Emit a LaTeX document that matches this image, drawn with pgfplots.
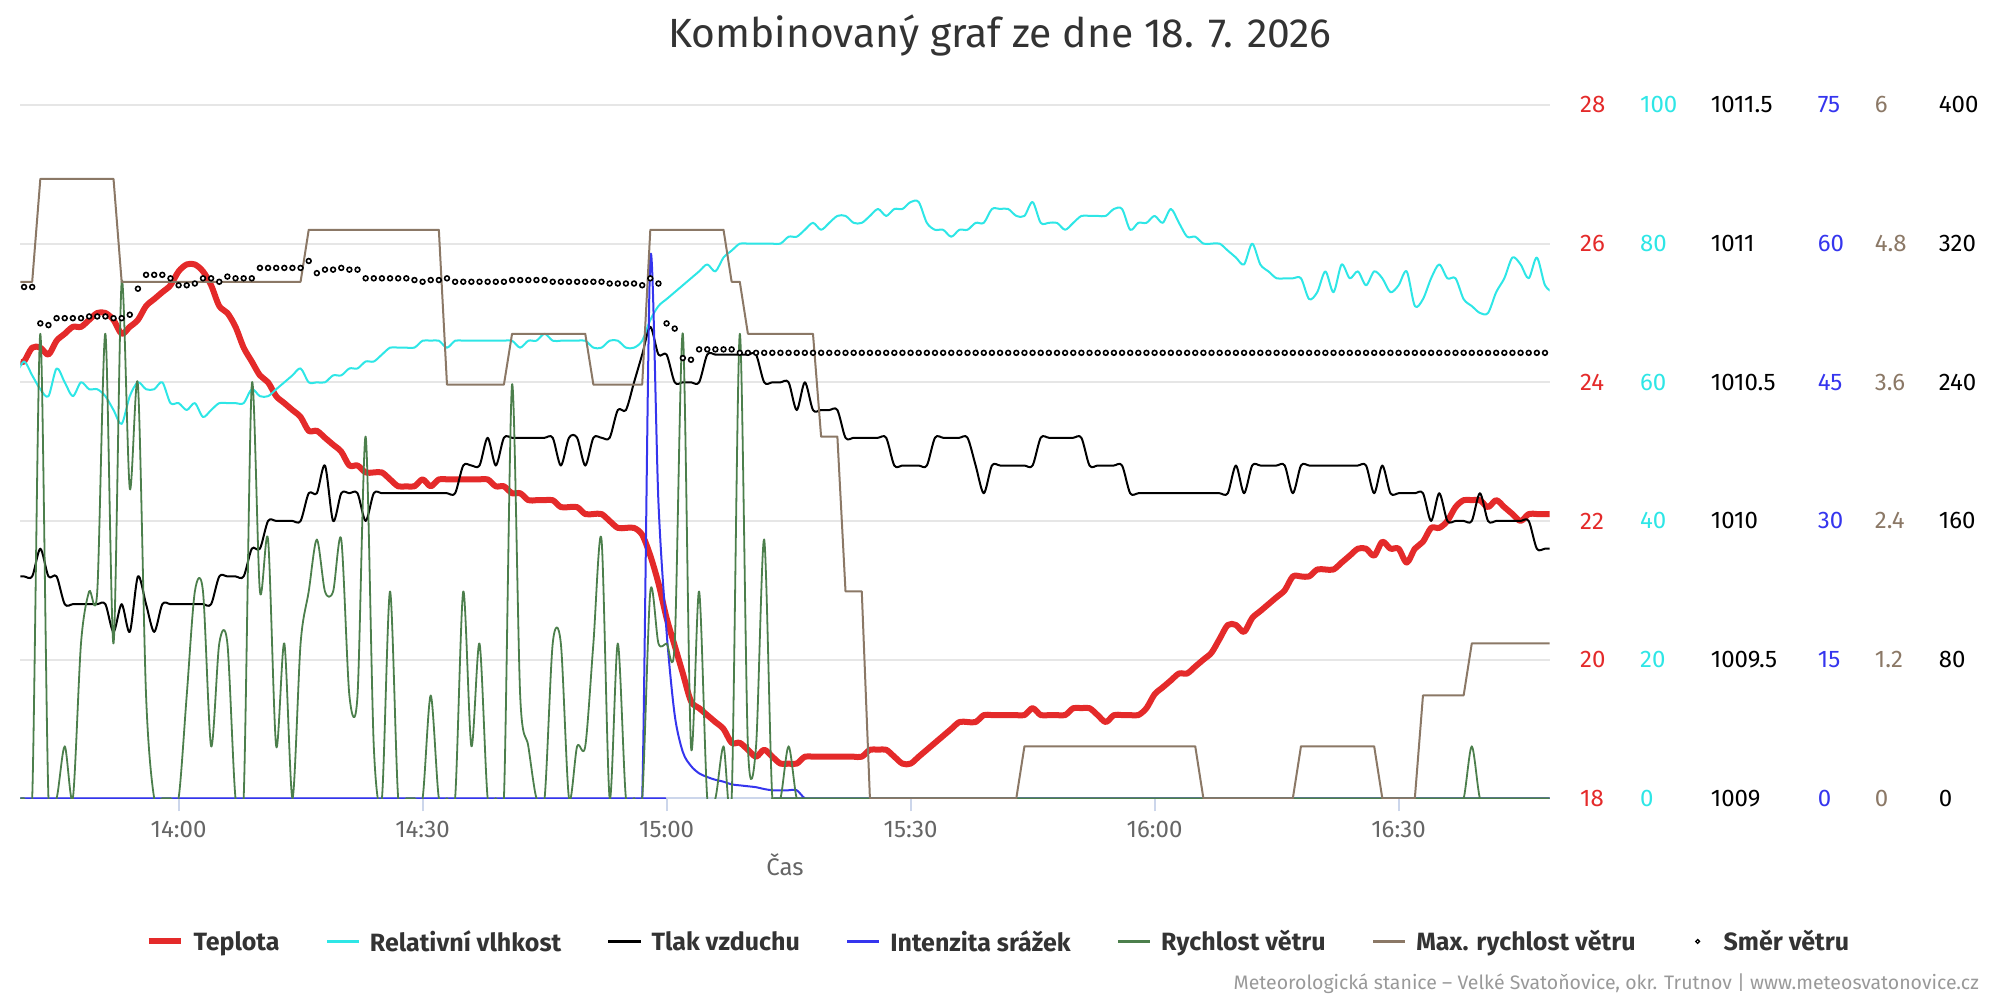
\documentclass[border=0pt]{standalone}
\usepackage{pgfplots}
\pgfplotsset{compat=1.18}
\usepackage{fontspec}
\setmainfont{Fira Sans}
\definecolor{cT}{HTML}{E42A2A}
\definecolor{cH}{HTML}{2EE6E6}
\definecolor{cP}{HTML}{000000}
\definecolor{cR}{HTML}{3535EE}
\definecolor{cW}{HTML}{4C7F4C}
\definecolor{cM}{HTML}{8B7866}
\definecolor{cGrid}{HTML}{E6E6E6}
\definecolor{cAxis}{HTML}{CCD6EB}
\definecolor{cLab}{HTML}{666666}
\definecolor{cText}{HTML}{333333}
\definecolor{cCred}{HTML}{999999}
\newcommand{\lblfont}{\fontsize{24}{28}\selectfont}
\pgfplotsset{
  base/.style={scale only axis, width=1529.3pt, height=693.3pt,
    at={(20.4pt,201.7pt)}, anchor=south west, xmin=820.55, xmax=1008.58},
  sec/.style={base, xtick=\empty, axis line style={draw=none}, major tick length=0pt,
    ytick style={draw=none}, yticklabel pos=right,
    yticklabel style={font=\lblfont, anchor=west, inner sep=0pt}},
}
\begin{document}
\begin{tikzpicture}[x=1pt,y=1pt]
\useasboundingbox (0,0) rectangle (2000,1000);
% frame: grid and time axis
\begin{axis}[base,
  ymin=0, ymax=5, ytick={0,1,2,3,4,5}, yticklabel style={opacity=0},
  ymajorgrids, grid style={draw=cGrid, line width=2pt},
  axis x line*=bottom, axis y line*=right,
  y axis line style={draw=none}, ytick style={draw=none},
  x axis line style={draw=cAxis, line width=2pt, -},
  xtick={840,870,900,930,960,990},
  xticklabels={14:00,14:30,15:00,15:30,16:00,16:30},
  xtick style={draw=cAxis, line width=2pt},
  tick align=outside, major tick length=13pt,
  xticklabel style={font=\lblfont, text=cLab, anchor=base, inner sep=0pt, yshift=-26.7pt},
  xlabel={Čas},
  xlabel style={font=\lblfont, text=cLab, anchor=base, inner sep=0pt, at={(axis description cs:0.5,0)}, yshift=-77.5pt},
]
\end{axis}
% temperature
\begin{axis}[sec, ymin=18, ymax=28, ytick={18,20,22,24,26,28},
  yticklabels={18,20,22,24,26,28}, yticklabel style={text=cT, xshift=30.3pt}]
\addplot[cT, line width=6pt, smooth, tension=0.5, line join=round] table[row sep=\\]{
x y\\
820.55 24.3\\ 821 24.3\\ 822 24.5\\ 823 24.5\\ 824 24.4\\ 825 24.6\\ 826 24.7\\ 827 24.8\\ 828 24.8\\ 829 24.9\\ 830 25.0\\ 831 25.0\\ 832 24.9\\ 833 24.7\\ 834 24.8\\ 835 24.9\\ 836 25.1\\ 837 25.2\\ 838 25.3\\ 839 25.4\\ 840 25.6\\ 841 25.7\\ 842 25.7\\ 843 25.6\\ 844 25.4\\ 845 25.1\\ 846 25.0\\ 847 24.8\\ 848 24.5\\ 849 24.3\\ 850 24.1\\ 851 24.0\\ 852 23.8\\ 853 23.7\\ 854 23.6\\ 855 23.5\\ 856 23.3\\ 857 23.3\\ 858 23.2\\ 859 23.1\\ 860 23.0\\ 861 22.8\\ 862 22.8\\ 863 22.7\\ 864 22.7\\ 865 22.7\\ 866 22.6\\ 867 22.5\\ 868 22.5\\ 869 22.5\\ 870 22.6\\ 871 22.5\\ 872 22.6\\ 873 22.6\\ 874 22.6\\ 875 22.6\\ 876 22.6\\ 877 22.6\\ 878 22.6\\ 879 22.5\\ 880 22.5\\ 881 22.4\\ 882 22.4\\ 883 22.3\\ 884 22.3\\ 885 22.3\\ 886 22.3\\ 887 22.2\\ 888 22.2\\ 889 22.2\\ 890 22.1\\ 891 22.1\\ 892 22.1\\ 893 22.0\\ 894 21.9\\ 895 21.9\\ 896 21.9\\ 897 21.8\\ 898 21.5\\ 899 21.1\\ 900 20.6\\ 901 20.2\\ 902 19.8\\ 903 19.4\\ 904 19.3\\ 905 19.2\\ 906 19.1\\ 907 19.0\\ 908 18.8\\ 909 18.8\\ 910 18.7\\ 911 18.6\\ 912 18.7\\ 913 18.6\\ 914 18.5\\ 915 18.5\\ 916 18.5\\ 917 18.6\\ 918 18.6\\ 919 18.6\\ 920 18.6\\ 921 18.6\\ 922 18.6\\ 923 18.6\\ 924 18.6\\ 925 18.7\\ 926 18.7\\ 927 18.7\\ 928 18.6\\ 929 18.5\\ 930 18.5\\ 931 18.6\\ 932 18.7\\ 933 18.8\\ 934 18.9\\ 935 19.0\\ 936 19.1\\ 937 19.1\\ 938 19.1\\ 939 19.2\\ 940 19.2\\ 941 19.2\\ 942 19.2\\ 943 19.2\\ 944 19.2\\ 945 19.3\\ 946 19.2\\ 947 19.2\\ 948 19.2\\ 949 19.2\\ 950 19.3\\ 951 19.3\\ 952 19.3\\ 953 19.2\\ 954 19.1\\ 955 19.2\\ 956 19.2\\ 957 19.2\\ 958 19.2\\ 959 19.3\\ 960 19.5\\ 961 19.6\\ 962 19.7\\ 963 19.8\\ 964 19.8\\ 965 19.9\\ 966 20.0\\ 967 20.1\\ 968 20.3\\ 969 20.5\\ 970 20.5\\ 971 20.4\\ 972 20.6\\ 973 20.7\\ 974 20.8\\ 975 20.9\\ 976 21.0\\ 977 21.2\\ 978 21.2\\ 979 21.2\\ 980 21.3\\ 981 21.3\\ 982 21.3\\ 983 21.4\\ 984 21.5\\ 985 21.6\\ 986 21.6\\ 987 21.5\\ 988 21.7\\ 989 21.6\\ 990 21.6\\ 991 21.4\\ 992 21.6\\ 993 21.7\\ 994 21.9\\ 995 21.9\\ 996 22.0\\ 997 22.2\\ 998 22.3\\ 999 22.3\\ 1000 22.3\\ 1001 22.2\\ 1002 22.3\\ 1003 22.2\\ 1004 22.1\\ 1005 22.0\\ 1006 22.1\\ 1007 22.1\\ 1008 22.1\\ 1009 22.1\\
};
\end{axis}
% humidity
\begin{axis}[sec, ymin=0, ymax=100, ytick={0,20,40,60,80,100},
  yticklabels={0,20,40,60,80,100}, yticklabel style={text=cH, xshift=90.3pt}]
\addplot[cH, line width=2pt, smooth, tension=0.5, line join=round] table[row sep=\\]{
x y\\
820 61\\ 821 63\\ 822 61\\ 823 59\\ 824 58\\ 825 62\\ 826 60\\ 827 58\\ 828 60\\ 829 59\\ 830 59\\ 831 58\\ 832 56\\ 833 54\\ 834 58\\ 835 60\\ 836 59\\ 837 59\\ 838 60\\ 839 57\\ 840 57\\ 841 56\\ 842 57\\ 843 55\\ 844 56\\ 845 57\\ 846 57\\ 847 57\\ 848 57\\ 849 59\\ 850 58\\ 851 58\\ 852 59\\ 853 60\\ 854 61\\ 855 62\\ 856 60\\ 857 60\\ 858 60\\ 859 61\\ 860 61\\ 861 62\\ 862 62\\ 863 63\\ 864 63\\ 865 64\\ 866 65\\ 867 65\\ 868 65\\ 869 65\\ 870 66\\ 871 66\\ 872 66\\ 873 65\\ 874 66\\ 875 66\\ 876 66\\ 877 66\\ 878 66\\ 879 66\\ 880 66\\ 881 66\\ 882 65\\ 883 66\\ 884 66\\ 885 67\\ 886 66\\ 887 66\\ 888 66\\ 889 66\\ 890 66\\ 891 65\\ 892 65\\ 893 66\\ 894 66\\ 895 65\\ 896 65\\ 897 66\\ 898 69\\ 899 71\\ 900 72\\ 901 73\\ 902 74\\ 903 75\\ 904 76\\ 905 77\\ 906 76\\ 907 78\\ 908 79\\ 909 80\\ 910 80\\ 911 80\\ 912 80\\ 913 80\\ 914 80\\ 915 81\\ 916 81\\ 917 82\\ 918 83\\ 919 82\\ 920 83\\ 921 84\\ 922 84\\ 923 83\\ 924 83\\ 925 84\\ 926 85\\ 927 84\\ 928 85\\ 929 85\\ 930 86\\ 931 86\\ 932 83\\ 933 82\\ 934 82\\ 935 81\\ 936 82\\ 937 82\\ 938 83\\ 939 83\\ 940 85\\ 941 85\\ 942 85\\ 943 84\\ 944 84\\ 945 86\\ 946 83\\ 947 83\\ 948 83\\ 949 82\\ 950 83\\ 951 84\\ 952 84\\ 953 84\\ 954 84\\ 955 85\\ 956 85\\ 957 82\\ 958 83\\ 959 83\\ 960 84\\ 961 83\\ 962 85\\ 963 83\\ 964 81\\ 965 81\\ 966 80\\ 967 80\\ 968 80\\ 969 79\\ 970 78\\ 971 77\\ 972 80\\ 973 77\\ 974 76\\ 975 75\\ 976 75\\ 977 75\\ 978 75\\ 979 72\\ 980 73\\ 981 76\\ 982 73\\ 983 77\\ 984 75\\ 985 76\\ 986 74\\ 987 76\\ 988 75\\ 989 73\\ 990 74\\ 991 76\\ 992 71\\ 993 72\\ 994 75\\ 995 77\\ 996 75\\ 997 75\\ 998 72\\ 999 71\\ 1000 70\\ 1001 70\\ 1002 73\\ 1003 75\\ 1004 78\\ 1005 77\\ 1006 75\\ 1007 78\\ 1008 74\\ 1009 73\\
};
\end{axis}
% pressure
\begin{axis}[sec, ymin=1009, ymax=1011.5, ytick={1009,1009.5,1010,1010.5,1011,1011.5},
  yticklabels={1009,1009.5,1010,1010.5,1011,1011.5}, yticklabel style={text=cP, xshift=161pt}]
\addplot[cP, line width=2pt, smooth, tension=0.5, line join=round] table[row sep=\\]{
x y\\
820 1009.8\\ 821 1009.8\\ 822 1009.8\\ 823 1009.9\\ 824 1009.8\\ 825 1009.8\\ 826 1009.7\\ 827 1009.7\\ 828 1009.7\\ 829 1009.7\\ 830 1009.7\\ 831 1009.7\\ 832 1009.6\\ 833 1009.7\\ 834 1009.6\\ 835 1009.8\\ 836 1009.7\\ 837 1009.6\\ 838 1009.7\\ 839 1009.7\\ 840 1009.7\\ 841 1009.7\\ 842 1009.7\\ 843 1009.7\\ 844 1009.7\\ 845 1009.8\\ 846 1009.8\\ 847 1009.8\\ 848 1009.8\\ 849 1009.9\\ 850 1009.9\\ 851 1010.0\\ 852 1010.0\\ 853 1010.0\\ 854 1010.0\\ 855 1010.0\\ 856 1010.1\\ 857 1010.1\\ 858 1010.2\\ 859 1010.0\\ 860 1010.1\\ 861 1010.1\\ 862 1010.1\\ 863 1010.0\\ 864 1010.1\\ 865 1010.1\\ 866 1010.1\\ 867 1010.1\\ 868 1010.1\\ 869 1010.1\\ 870 1010.1\\ 871 1010.1\\ 872 1010.1\\ 873 1010.1\\ 874 1010.1\\ 875 1010.2\\ 876 1010.2\\ 877 1010.2\\ 878 1010.3\\ 879 1010.2\\ 880 1010.3\\ 881 1010.3\\ 882 1010.3\\ 883 1010.3\\ 884 1010.3\\ 885 1010.3\\ 886 1010.3\\ 887 1010.2\\ 888 1010.3\\ 889 1010.3\\ 890 1010.2\\ 891 1010.3\\ 892 1010.3\\ 893 1010.3\\ 894 1010.4\\ 895 1010.4\\ 896 1010.5\\ 897 1010.6\\ 898 1010.7\\ 899 1010.6\\ 900 1010.6\\ 901 1010.5\\ 902 1010.5\\ 903 1010.5\\ 904 1010.5\\ 905 1010.6\\ 906 1010.6\\ 907 1010.6\\ 908 1010.6\\ 909 1010.6\\ 910 1010.6\\ 911 1010.6\\ 912 1010.5\\ 913 1010.5\\ 914 1010.5\\ 915 1010.5\\ 916 1010.4\\ 917 1010.5\\ 918 1010.4\\ 919 1010.4\\ 920 1010.4\\ 921 1010.4\\ 922 1010.3\\ 923 1010.3\\ 924 1010.3\\ 925 1010.3\\ 926 1010.3\\ 927 1010.3\\ 928 1010.2\\ 929 1010.2\\ 930 1010.2\\ 931 1010.2\\ 932 1010.2\\ 933 1010.3\\ 934 1010.3\\ 935 1010.3\\ 936 1010.3\\ 937 1010.3\\ 938 1010.2\\ 939 1010.1\\ 940 1010.2\\ 941 1010.2\\ 942 1010.2\\ 943 1010.2\\ 944 1010.2\\ 945 1010.2\\ 946 1010.3\\ 947 1010.3\\ 948 1010.3\\ 949 1010.3\\ 950 1010.3\\ 951 1010.3\\ 952 1010.2\\ 953 1010.2\\ 954 1010.2\\ 955 1010.2\\ 956 1010.2\\ 957 1010.1\\ 958 1010.1\\ 959 1010.1\\ 960 1010.1\\ 961 1010.1\\ 962 1010.1\\ 963 1010.1\\ 964 1010.1\\ 965 1010.1\\ 966 1010.1\\ 967 1010.1\\ 968 1010.1\\ 969 1010.1\\ 970 1010.2\\ 971 1010.1\\ 972 1010.2\\ 973 1010.2\\ 974 1010.2\\ 975 1010.2\\ 976 1010.2\\ 977 1010.1\\ 978 1010.2\\ 979 1010.2\\ 980 1010.2\\ 981 1010.2\\ 982 1010.2\\ 983 1010.2\\ 984 1010.2\\ 985 1010.2\\ 986 1010.2\\ 987 1010.1\\ 988 1010.2\\ 989 1010.1\\ 990 1010.1\\ 991 1010.1\\ 992 1010.1\\ 993 1010.1\\ 994 1010.0\\ 995 1010.1\\ 996 1010.0\\ 997 1010.0\\ 998 1010.0\\ 999 1010.0\\ 1000 1010.1\\ 1001 1010.0\\ 1002 1010.0\\ 1003 1010.0\\ 1004 1010.0\\ 1005 1010.0\\ 1006 1010.0\\ 1007 1009.9\\ 1008 1009.9\\ 1009 1009.9\\
};
\end{axis}
% rain intensity
\begin{axis}[sec, ymin=0, ymax=75, ytick={0,15,30,45,60,75},
  yticklabels={0,15,30,45,60,75}, yticklabel style={text=cR, xshift=268pt}]
\addplot[cR, line width=2pt, smooth, tension=0.5, line join=round] table[row sep=\\]{
x y\\
820.55 0\\ 895 0\\ 896 0\\ 897 0\\ 898 58.4\\ 899 32\\ 900 18\\ 901 9\\ 902 5\\ 903 3.5\\ 904 2.7\\ 905 2.3\\ 906 2.0\\ 907 1.8\\ 908 1.5\\ 909 1.4\\ 910 1.3\\ 911 1.2\\ 912 1.0\\ 913 0.87\\ 914 0.87\\ 915 0.87\\ 916 0.87\\ 917 0\\ 918 0\\ 919 0\\ 1008.58 0\\
};
\end{axis}
% wind speed and max wind speed
\begin{axis}[sec, ymin=0, ymax=6, ytick={0,1.2,2.4,3.6,4.8,6},
  yticklabels={0,1.2,2.4,3.6,4.8,6}, yticklabel style={text=cM, xshift=325pt}]
\addplot[cW, line width=1.8pt, smooth, tension=0.5, line join=round] table[row sep=\\]{
x y\\
820.55 0\\ 821 0\\ 822 0\\ 823 4.02\\ 824 0\\ 825 0\\ 826 0.45\\ 827 0\\ 828 1.34\\ 829 1.79\\ 830 1.79\\ 831 4.02\\ 832 1.34\\ 833 4.47\\ 834 2.68\\ 835 3.58\\ 836 0.89\\ 837 0\\ 838 0\\ 839 0\\ 840 0\\ 841 0.89\\ 842 1.79\\ 843 1.79\\ 844 0.45\\ 845 1.34\\ 846 1.34\\ 847 0\\ 848 0\\ 849 3.58\\ 850 1.79\\ 851 2.24\\ 852 0.45\\ 853 1.34\\ 854 0\\ 855 1.34\\ 856 1.79\\ 857 2.24\\ 858 1.79\\ 859 1.79\\ 860 2.24\\ 861 0.89\\ 862 0.89\\ 863 3.13\\ 864 0.45\\ 865 0\\ 866 1.79\\ 867 0\\ 868 0\\ 869 0\\ 870 0\\ 871 0.89\\ 872 0\\ 873 0\\ 874 0\\ 875 1.79\\ 876 0.45\\ 877 1.34\\ 878 0\\ 879 0\\ 880 0\\ 881 3.58\\ 882 0.89\\ 883 0.45\\ 884 0\\ 885 0\\ 886 1.34\\ 887 1.34\\ 888 0\\ 889 0.45\\ 890 0.45\\ 891 1.34\\ 892 2.24\\ 893 0\\ 894 1.34\\ 895 0\\ 896 0\\ 897 0\\ 898 1.79\\ 899 1.34\\ 900 1.34\\ 901 1.34\\ 902 4.02\\ 903 0.45\\ 904 1.79\\ 905 0\\ 906 0\\ 907 0.45\\ 908 0\\ 909 4.02\\ 910 0.45\\ 911 0.45\\ 912 2.24\\ 913 0\\ 914 0\\ 915 0.45\\ 916 0\\ 917 0\\ 918 0\\ 996 0\\ 997 0\\ 998 0\\ 999 0.45\\ 1000 0\\ 1001 0\\ 1002 0\\ 1008.58 0\\
};
\addplot[cM, line width=2pt, line join=round] table[row sep=\\]{
x y\\
820.55 4.47\\ 822 4.47\\ 823 5.36\\ 832 5.36\\ 833 4.47\\ 855 4.47\\ 856 4.92\\ 872 4.92\\ 873 3.58\\ 880 3.58\\ 881 4.02\\ 890 4.02\\ 891 3.58\\ 897 3.58\\ 898 4.92\\ 907 4.92\\ 908 4.47\\ 909 4.47\\ 910 4.02\\ 918 4.02\\ 919 3.13\\ 921 3.13\\ 922 1.79\\ 924 1.79\\ 925 0\\ 943 0\\ 944 0.45\\ 965 0.45\\ 966 0\\ 977 0\\ 978 0.45\\ 987 0.45\\ 988 0\\ 992 0\\ 993 0.89\\ 998 0.89\\ 999 1.34\\ 1008.58 1.34\\
};
\end{axis}
% wind direction + legend
\begin{axis}[sec, ymin=0, ymax=400, ytick={0,80,160,240,320,400},
  yticklabels={0,80,160,240,320,400}, yticklabel style={text=black, xshift=389pt},
  legend columns=7, legend cell align=left,
  legend style={at={(axis description cs:0.6389,-0.2065)}, anchor=center, draw=none, fill=none,
    font=\fontsize{25}{30}\selectfont\bfseries, text=cText, nodes={inner sep=0pt},
    /tikz/every odd column/.append style={column sep=10pt},
    /tikz/every even column/.append style={column sep=46pt}},
  legend image code/.code={\draw[#1] (0pt,0pt) -- (32pt,0pt);},
]
\addlegendimage{cT, line width=6pt}\addlegendentry{Teplota}
\addlegendimage{cH, line width=2.5pt}\addlegendentry{Relativní vlhkost}
\addlegendimage{cP, line width=2.5pt}\addlegendentry{Tlak vzduchu}
\addlegendimage{cR, line width=2.5pt}\addlegendentry{Intenzita srážek}
\addlegendimage{cW, line width=2.5pt}\addlegendentry{Rychlost větru}
\addlegendimage{cM, line width=2.5pt}\addlegendentry{Max. rychlost větru}
\addlegendimage{legend image code/.code={\path[draw=none] (0pt,0pt) -- (32pt,0pt); \draw[draw=black, line width=1.3pt, fill=white] (16pt,0pt) circle (1.9pt);}}\addlegendentry{Směr větru}
\addplot[only marks, mark=*, mark size=2.4pt, mark options={draw=black, fill=white, line width=1.6pt}, forget plot] table[row sep=\\]{
x y\\
821 295\\ 822 295\\ 823 274\\ 824 273\\ 825 277\\ 826 277\\ 827 277\\ 828 277\\ 829 278\\ 830 278\\ 831 278\\ 832 277\\ 833 277\\ 834 279\\ 835 294\\ 836 302\\ 837 302\\ 838 302\\ 839 300\\ 840 296\\ 841 296\\ 842 297\\ 843 300\\ 844 300\\ 845 298\\ 846 301\\ 847 300\\ 848 300\\ 849 300\\ 850 306\\ 851 306\\ 852 306\\ 853 306\\ 854 306\\ 855 306\\ 856 310\\ 857 303\\ 858 305\\ 859 305\\ 860 306\\ 861 305\\ 862 305\\ 863 300\\ 864 300\\ 865 300\\ 866 300\\ 867 300\\ 868 300\\ 869 299\\ 870 298\\ 871 299\\ 872 299\\ 873 300\\ 874 298\\ 875 298\\ 876 298\\ 877 298\\ 878 298\\ 879 298\\ 880 298\\ 881 299\\ 882 299\\ 883 299\\ 884 299\\ 885 299\\ 886 298\\ 887 298\\ 888 298\\ 889 298\\ 890 298\\ 891 298\\ 892 298\\ 893 297\\ 894 297\\ 895 297\\ 896 297\\ 897 296\\ 898 300\\ 899 297\\ 900 274\\ 901 271\\ 902 254\\ 903 253\\ 904 259\\ 905 259\\ 906 259\\ 907 259\\ 908 259\\ 909 257\\ 910 257\\ 911 257\\ 912 257\\ 913 257\\ 914 257\\ 915 257\\ 916 257\\ 917 257\\ 918 257\\ 919 257\\ 920 257\\ 921 257\\ 922 257\\ 923 257\\ 924 257\\ 925 257\\ 926 257\\ 927 257\\ 928 257\\ 929 257\\ 930 257\\ 931 257\\ 932 257\\ 933 257\\ 934 257\\ 935 257\\ 936 257\\ 937 257\\ 938 257\\ 939 257\\ 940 257\\ 941 257\\ 942 257\\ 943 257\\ 944 257\\ 945 257\\ 946 257\\ 947 257\\ 948 257\\ 949 257\\ 950 257\\ 951 257\\ 952 257\\ 953 257\\ 954 257\\ 955 257\\ 956 257\\ 957 257\\ 958 257\\ 959 257\\ 960 257\\ 961 257\\ 962 257\\ 963 257\\ 964 257\\ 965 257\\ 966 257\\ 967 257\\ 968 257\\ 969 257\\ 970 257\\ 971 257\\ 972 257\\ 973 257\\ 974 257\\ 975 257\\ 976 257\\ 977 257\\ 978 257\\ 979 257\\ 980 257\\ 981 257\\ 982 257\\ 983 257\\ 984 257\\ 985 257\\ 986 257\\ 987 257\\ 988 257\\ 989 257\\ 990 257\\ 991 257\\ 992 257\\ 993 257\\ 994 257\\ 995 257\\ 996 257\\ 997 257\\ 998 257\\ 999 257\\ 1000 257\\ 1001 257\\ 1002 257\\ 1003 257\\ 1004 257\\ 1005 257\\ 1006 257\\ 1007 257\\ 1008 257\\
};
\end{axis}
\node[anchor=base, text=cText, font=\fontsize{40.8}{48}\selectfont, inner sep=0pt] at (1000,952.3) {Kombinovaný graf ze dne 18. 7. 2026};
\node[anchor=base east, text=cCred, font=\fontsize{19.5}{23}\selectfont, inner sep=0pt] at (1979,10) {Meteorologická stanice – Velké Svatoňovice, okr. Trutnov | www.meteosvatonovice.cz};
\end{tikzpicture}
\end{document}
